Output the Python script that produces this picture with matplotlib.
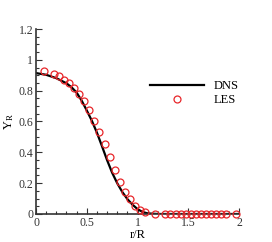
import numpy as np
import matplotlib.pyplot as plt
from matplotlib.ticker import MultipleLocator

plt.rcParams['font.family'] = ['Liberation Serif', 'DejaVu Serif']
plt.rcParams['mathtext.fontset'] = 'stix'

# DNS profile
dns_r = [0.0, 0.1, 0.2, 0.3, 0.35, 0.4, 0.45, 0.5, 0.55, 0.6, 0.65, 0.7, 0.75,
         0.8, 0.85, 0.9, 0.95, 1.0, 1.05, 1.1, 1.2, 1.5, 2.0]
dns_y = [0.914, 0.903, 0.881, 0.848, 0.822, 0.788, 0.735, 0.672, 0.605, 0.528, 0.44,
         0.35, 0.268, 0.2, 0.143, 0.097, 0.061, 0.032, 0.013, 0.004, 0.0, 0.0, 0.0]

# LES points
les_r = [0.075, 0.175, 0.225, 0.275, 0.325, 0.375, 0.425, 0.475, 0.525, 0.575,
         0.625, 0.675, 0.725, 0.775, 0.825, 0.875, 0.925, 0.975, 1.025, 1.075,
         1.175, 1.275, 1.325, 1.375, 1.425, 1.475, 1.525, 1.575, 1.625, 1.675,
         1.725, 1.775, 1.825, 1.875, 1.975]
les_y = [0.926, 0.905, 0.892, 0.87, 0.849, 0.815, 0.777, 0.731, 0.672, 0.605,
         0.534, 0.455, 0.372, 0.286, 0.21, 0.145, 0.095, 0.052, 0.025, 0.01,
         0.0, 0.0, 0.0, 0.0, 0.0, 0.0, 0.0, 0.0, 0.0, 0.0,
         0.0, 0.0, 0.0, 0.0, 0.0]

fig = plt.figure(figsize=(2.72, 2.42), dpi=100)
ax = fig.add_axes([36/272, 1 - 214/242, 203/272, 185/242])

ax.plot(dns_r, dns_y, color='black', lw=1.6, label='DNS', zorder=2)
ax.plot(les_r, les_y, 'o', mfc='none', mec='#e8262a', ms=5, mew=0.9,
        label='LES', zorder=3, clip_on=False)

ax.set_xlim(0, 2)
ax.set_ylim(0, 1.2)
ax.xaxis.set_major_locator(MultipleLocator(0.5))
ax.xaxis.set_minor_locator(MultipleLocator(0.1))
ax.yaxis.set_major_locator(MultipleLocator(0.2))
ax.yaxis.set_minor_locator(MultipleLocator(0.05))
ax.set_xticks([0, 0.5, 1, 1.5, 2], ['0', '0.5', '1', '1.5', '2'])
ax.set_yticks([0, 0.2, 0.4, 0.6, 0.8, 1, 1.2],
              ['0', '0.2', '0.4', '0.6', '0.8', '1', '1.2'])

for s in ['top', 'right']:
    ax.spines[s].set_visible(False)
for s in ['left', 'bottom']:
    ax.spines[s].set_linewidth(1.2)
    ax.spines[s].set_color('#333333')
ax.tick_params(which='both', direction='in', labelsize=8.5, width=0.8, colors='#333333')
ax.tick_params(which='major', length=4.5)
ax.tick_params(which='minor', length=2.5)
ax.tick_params(axis='both', pad=2)

ax.set_xlabel('r/R', fontsize=9, labelpad=0)
ax.set_ylabel(r'Y$_{\mathregular{R}}$', fontsize=9, labelpad=2)

ax.legend(loc='upper left', bbox_to_anchor=(150/272, 1 - 80/242),
          bbox_transform=fig.transFigure, frameon=False, fontsize=9,
          handlelength=4.3, handletextpad=0.8, labelspacing=0.15,
          borderpad=0, borderaxespad=0, numpoints=1)

fig.savefig('out.png', dpi=100)
